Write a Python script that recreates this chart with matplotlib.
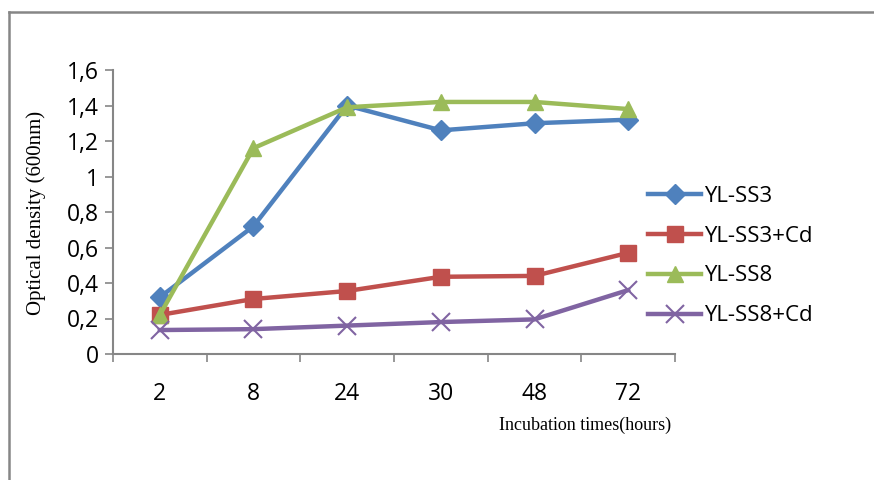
import matplotlib
matplotlib.use("Agg")
import matplotlib.pyplot as plt
from matplotlib.lines import Line2D

# Data
hours = ["2", "8", "24", "30", "48", "72"]
ss3 = [0.32, 0.72, 1.40, 1.26, 1.30, 1.32]
ss3_cd = [0.22, 0.31, 0.355, 0.435, 0.44, 0.57]
ss8 = [0.22, 1.16, 1.39, 1.42, 1.42, 1.38]
ss8_cd = [0.135, 0.14, 0.16, 0.18, 0.195, 0.36]
y_ticks = [0, 0.2, 0.4, 0.6, 0.8, 1.0, 1.2, 1.4, 1.6]
y_tick_labels = ["0", "0,2", "0,4", "0,6", "0,8", "1", "1,2", "1,4", "1,6"]

grey = "#868686"

fig = plt.figure(figsize=(8.74, 4.8), dpi=100)
ax = fig.add_axes([113/874, 1 - 354/480, (675 - 113)/874, (354 - 70)/480])

x = list(range(len(hours)))
ax.plot(x, ss3, color="#4F81BD", lw=3.2, marker="D", ms=10, label="YL-SS3")
ax.plot(x, ss3_cd, color="#C0504D", lw=3.2, marker="s", ms=11, label="YL-SS3+Cd")
ax.plot(x, ss8, color="#9BBB59", lw=3.2, marker="^", ms=12, label="YL-SS8")
ax.plot(x, ss8_cd, color="#8064A2", lw=3.2, marker="x", ms=13, mew=1.5,
        label="YL-SS8+Cd")

ax.set_xlim(-0.5, len(hours) - 0.5)
ax.set_ylim(0, 1.6)

ax.set_yticks(y_ticks)
ax.set_yticklabels(y_tick_labels, fontfamily="Open Sans", fontsize=16.5)
ax.set_xticks(x)
ax.set_xticklabels(hours, fontfamily="Open Sans", fontsize=16.5)
ax.tick_params(axis="x", length=0, pad=20)
ax.set_xticks([i - 0.5 for i in range(len(hours) + 1)], minor=True)
ax.tick_params(axis="x", which="minor", length=6, color=grey, width=1.2)
ax.tick_params(axis="y", length=6, color=grey, width=1.2, pad=4)

for side in ["top", "right"]:
    ax.spines[side].set_visible(False)
for side in ["left", "bottom"]:
    ax.spines[side].set_color(grey)
    ax.spines[side].set_linewidth(1.5)

fig.text(36/874, 1 - 213/480, "Optical density (600nm)", rotation=90,
         fontfamily="Liberation Serif", fontsize=15, ha="center", va="center")
fig.text(585/874, 1 - 425/480, "Incubation times(hours)",
         fontfamily="Liberation Serif", fontsize=13, ha="center", va="center")

fig.legend(loc="center left", bbox_to_anchor=(628/874, 1 - 256/480),
           frameon=False, handlelength=2.4, handletextpad=0.1,
           labelspacing=0.85, prop={"family": "Open Sans", "size": 16})

# outer chart frame
fig.add_artist(Line2D([9/874, 1], [1 - 12/480, 1 - 12/480],
                      transform=fig.transFigure, color=grey, lw=1.8))
fig.add_artist(Line2D([9/874, 9/874], [0, 1 - 12/480],
                      transform=fig.transFigure, color=grey, lw=1.8))

fig.savefig("out.png", dpi=100)
